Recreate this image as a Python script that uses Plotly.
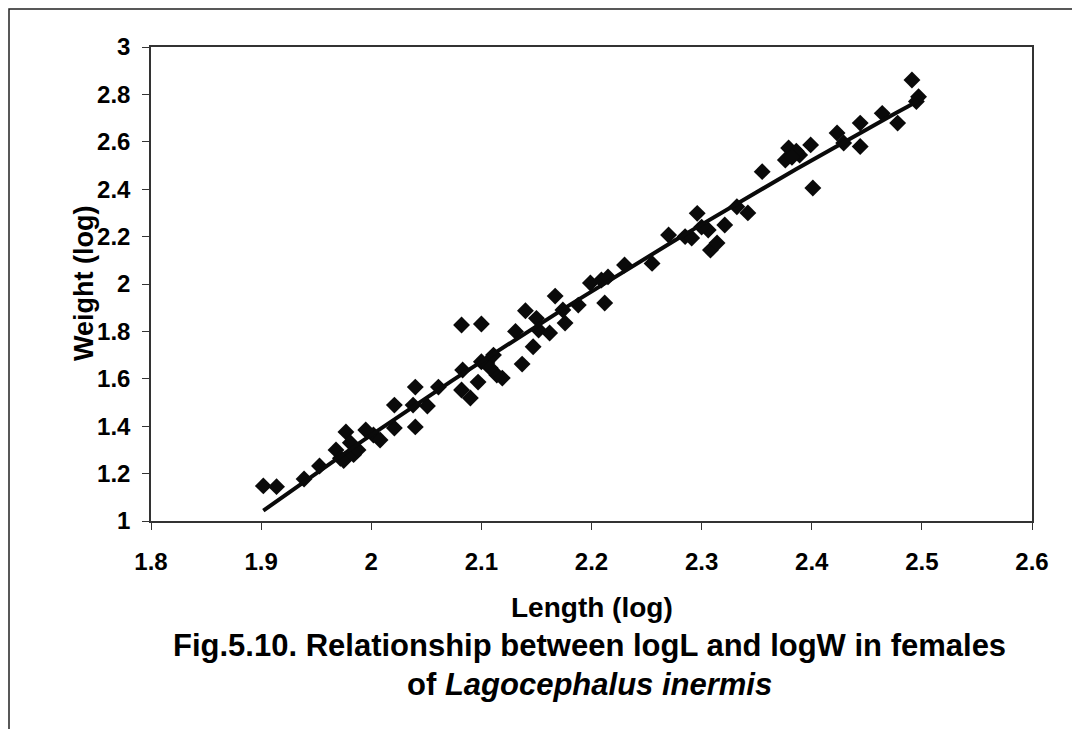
import numpy as np
import plotly.graph_objects as go

# Scatter data (log length, log weight)
length_log = [1.902, 1.914, 1.939, 1.953, 1.968, 1.972, 1.975, 1.977, 1.981, 1.984, 1.988,
              1.995, 2.002, 2.008, 2.021, 2.021, 2.040, 2.038, 2.051, 2.040, 2.061,
              2.083, 2.082, 2.090, 2.097, 2.105, 2.082, 2.100, 2.100, 2.111, 2.114,
              2.108, 2.119, 2.131, 2.137, 2.140, 2.167, 2.150, 2.152, 2.162, 2.147,
              2.174, 2.176, 2.188, 2.199, 2.212, 2.209, 2.215, 2.230, 2.255,
              2.270, 2.285, 2.296, 2.291, 2.306, 2.308, 2.321, 2.314, 2.300, 2.332,
              2.342, 2.355, 2.379, 2.376, 2.399, 2.389, 2.401, 2.423, 2.429, 2.444,
              2.444, 2.464, 2.478, 2.491, 2.497, 2.495, 2.386, 2.382]
weight_log = [1.148, 1.145, 1.177, 1.232, 1.300, 1.265, 1.255, 1.376, 1.330, 1.280, 1.300,
              1.384, 1.363, 1.342, 1.489, 1.392, 1.565, 1.489, 1.485, 1.397, 1.565,
              1.637, 1.553, 1.519, 1.586, 1.667, 1.827, 1.831, 1.672, 1.700, 1.616,
              1.646, 1.603, 1.800, 1.662, 1.887, 1.949, 1.855, 1.806, 1.793, 1.735,
              1.890, 1.835, 1.911, 2.004, 1.920, 2.017, 2.030, 2.080, 2.087,
              2.207, 2.200, 2.298, 2.194, 2.228, 2.143, 2.249, 2.173, 2.240, 2.326,
              2.300, 2.474, 2.574, 2.523, 2.587, 2.544, 2.405, 2.637, 2.595, 2.679,
              2.580, 2.720, 2.679, 2.861, 2.790, 2.770, 2.560, 2.535]

x_ticks = [1.8, 1.9, 2.0, 2.1, 2.2, 2.3, 2.4, 2.5, 2.6]
x_tick_text = ["1.8", "1.9", "2", "2.1", "2.2", "2.3", "2.4", "2.5", "2.6"]
y_ticks = [1.0, 1.2, 1.4, 1.6, 1.8, 2.0, 2.2, 2.4, 2.6, 2.8, 3.0]
y_tick_text = ["1", "1.2", "1.4", "1.6", "1.8", "2", "2.2", "2.4", "2.6", "2.8", "3"]

# Trend line: least-squares logarithmic fit to the data
xa = np.array(length_log)
ya = np.array(weight_log)
a, b = np.polyfit(np.log(xa), ya, 1)
trend_x = np.linspace(xa.min(), xa.max(), 60)
trend_y = a * np.log(trend_x) + b

FONT = "Liberation Sans, Arial, sans-serif"

# page body has an 8px margin, so figure coordinates = page coordinates - 8
W, H = 1072, 721
L, T = 143, 39            # plot area left / top in figure px
PW, PH = 881, 474         # plot area width / height


def px(xf):
    return (xf - L) / PW


def py(yf):
    return (T + PH - yf) / PH


fig = go.Figure()
fig.add_trace(go.Scatter(x=length_log, y=weight_log, mode="markers",
                         marker=dict(symbol="diamond", size=13, color="#0a0a0a",
                                     line=dict(width=0)),
                         showlegend=False))
fig.add_trace(go.Scatter(x=trend_x, y=trend_y, mode="lines",
                         line=dict(color="#0a0a0a", width=4), showlegend=False))

tickfont = dict(size=24, family=FONT, color="black", weight="bold")
fig.update_layout(
    width=W, height=H,
    margin=dict(l=L, r=W - L - PW, t=T, b=H - T - PH),
    paper_bgcolor="white", plot_bgcolor="white",
    font=dict(family=FONT, color="black", size=21),
    xaxis=dict(range=[1.8, 2.6], tickvals=x_ticks, ticktext=x_tick_text,
               showgrid=False, zeroline=False, showline=True, linecolor="#333",
               linewidth=1.5, mirror=True, ticks="outside", ticklen=7,
               tickcolor="#333", tickfont=tickfont, ticklabelstandoff=11),
    yaxis=dict(range=[1.0, 3.0], tickvals=y_ticks, ticktext=y_tick_text,
               showgrid=False, zeroline=False, showline=True, linecolor="#333",
               linewidth=1.5, mirror=True, ticks="outside", ticklen=7,
               tickcolor="#333", tickfont=tickfont, ticklabelstandoff=7),
)

# outer frame
fig.add_shape(type="rect", xref="paper", yref="paper",
              x0=px(1), x1=px(1069), y0=py(H + 20), y1=py(1),
              line=dict(color="#222", width=1.5), fillcolor="rgba(0,0,0,0)",
              layer="below")

fig.add_annotation(text="<b>Weight (log)</b>", textangle=-90, xref="paper", yref="paper",
                   x=px(76), y=py(276), showarrow=False,
                   font=dict(size=27, family=FONT), xanchor="center", yanchor="middle")
fig.add_annotation(text="<b>Length (log)</b>", xref="paper", yref="paper",
                   x=px(584), y=py(599), showarrow=False,
                   font=dict(size=28, family=FONT), xanchor="center", yanchor="middle")
fig.add_annotation(text="<b>Fig.5.10. Relationship between logL and logW in females</b>",
                   xref="paper", yref="paper",
                   x=px(581), y=py(637), showarrow=False,
                   font=dict(size=31, family=FONT), xanchor="center", yanchor="middle")
fig.add_annotation(text="<b>of <i>Lagocephalus inermis</i></b>",
                   xref="paper", yref="paper",
                   x=px(581), y=py(676), showarrow=False,
                   font=dict(size=31, family=FONT), xanchor="center", yanchor="middle")

fig.write_html("out.html")
